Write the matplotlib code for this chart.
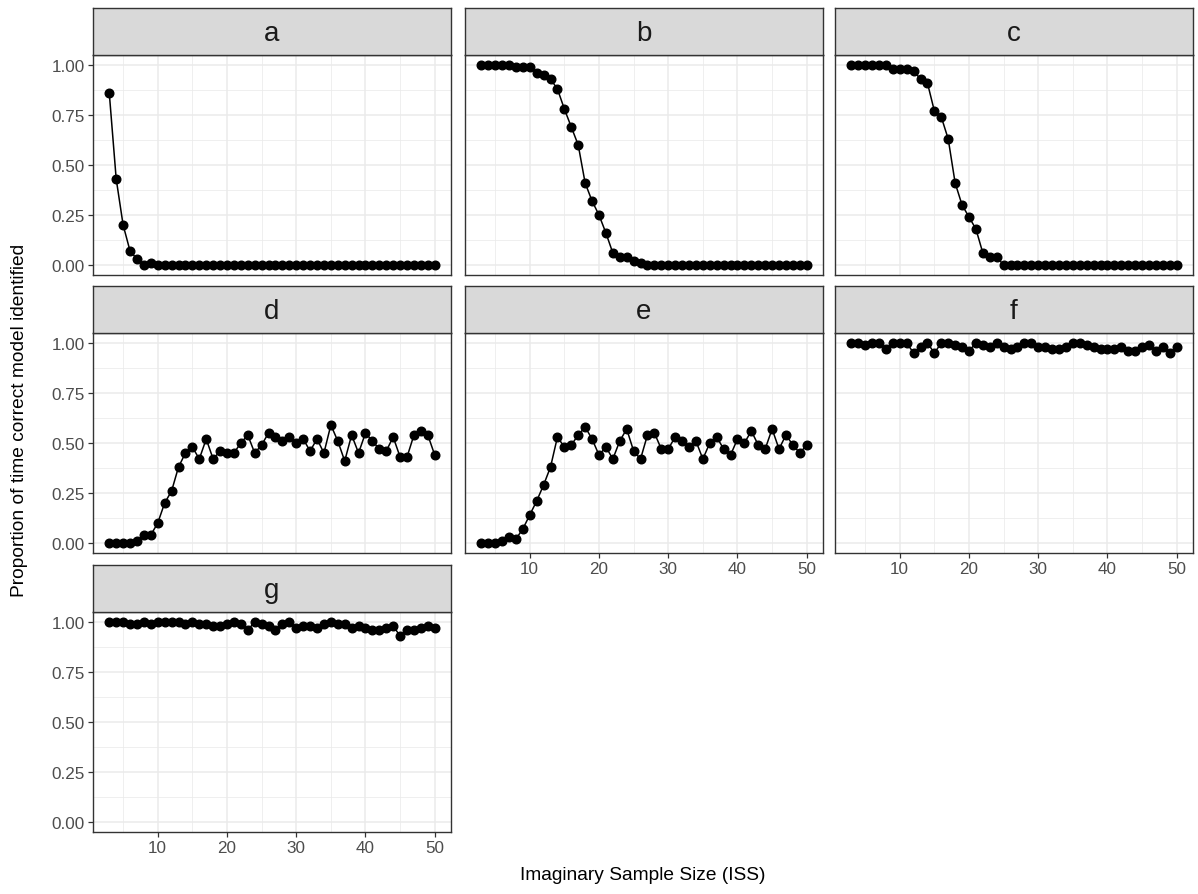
import numpy as np
import matplotlib
matplotlib.use("Agg")
import matplotlib.pyplot as plt
from matplotlib.ticker import FixedLocator, FormatStrFormatter

plt.rcParams["font.family"] = ["Liberation Sans", "DejaVu Sans"]

# imaginary sample size, shared by every panel
iss = np.arange(3, 51)

# proportion of runs where the correct model was picked, one list per case
prop_a = [0.86, 0.43, 0.20, 0.07, 0.03, 0.00, 0.01] + [0.00] * 41
prop_b = [1.00, 1.00, 1.00, 1.00, 1.00, 0.99, 0.99, 0.99, 0.96, 0.95,
          0.93, 0.88, 0.78, 0.69, 0.60, 0.41, 0.32, 0.25, 0.16, 0.06,
          0.04, 0.04, 0.02, 0.01] + [0.00] * 24
prop_c = [1.00, 1.00, 1.00, 1.00, 1.00, 1.00, 0.98, 0.98, 0.98, 0.97,
          0.93, 0.91, 0.77, 0.74, 0.63, 0.41, 0.30, 0.24, 0.18, 0.06,
          0.04, 0.04] + [0.00] * 26
prop_d = [0.00, 0.00, 0.00, 0.00, 0.01, 0.04, 0.04, 0.10, 0.20, 0.26,
          0.38, 0.45, 0.48, 0.42, 0.52, 0.42, 0.46, 0.45, 0.45, 0.50,
          0.54, 0.45, 0.49, 0.55, 0.53, 0.51, 0.53, 0.50, 0.52, 0.46,
          0.52, 0.45, 0.59, 0.51, 0.41, 0.54, 0.45, 0.55, 0.51, 0.47,
          0.46, 0.53, 0.43, 0.43, 0.54, 0.56, 0.54, 0.44]
prop_e = [0.00, 0.00, 0.00, 0.01, 0.03, 0.02, 0.07, 0.14, 0.21, 0.29,
          0.38, 0.53, 0.48, 0.49, 0.54, 0.58, 0.52, 0.44, 0.48, 0.42,
          0.51, 0.57, 0.46, 0.42, 0.54, 0.55, 0.47, 0.47, 0.53, 0.51,
          0.48, 0.51, 0.42, 0.50, 0.53, 0.47, 0.44, 0.52, 0.50, 0.56,
          0.49, 0.47, 0.57, 0.47, 0.54, 0.49, 0.45, 0.49]
prop_f = [1.00, 1.00, 0.99, 1.00, 1.00, 0.97, 1.00, 1.00, 1.00, 0.95,
          0.98, 1.00, 0.95, 1.00, 1.00, 0.99, 0.98, 0.96, 1.00, 0.99,
          0.98, 1.00, 0.98, 0.97, 0.98, 1.00, 1.00, 0.98, 0.98, 0.97,
          0.97, 0.98, 1.00, 1.00, 0.99, 0.98, 0.97, 0.97, 0.97, 0.98,
          0.96, 0.96, 0.98, 0.99, 0.96, 0.98, 0.95, 0.98]
prop_g = [1.00, 1.00, 1.00, 0.99, 0.99, 1.00, 0.99, 1.00, 1.00, 1.00,
          1.00, 0.99, 1.00, 0.99, 0.99, 0.98, 0.98, 0.99, 1.00, 0.99,
          0.96, 1.00, 0.99, 0.98, 0.96, 0.99, 1.00, 0.97, 0.98, 0.98,
          0.97, 0.99, 1.00, 0.99, 0.99, 0.97, 0.98, 0.97, 0.96, 0.96,
          0.97, 0.98, 0.93, 0.96, 0.96, 0.97, 0.98, 0.97]

panel_names = ["a", "b", "c", "d", "e", "f", "g"]
panel_values = [prop_a, prop_b, prop_c, prop_d, prop_e, prop_f, prop_g]

x_major = [10, 20, 30, 40, 50]
x_minor = [5, 15, 25, 35, 45]
y_major = [0.0, 0.25, 0.50, 0.75, 1.0]
y_minor = [0.125, 0.375, 0.625, 0.875]

W, H = 1198, 895
fig = plt.figure(figsize=(W / 100, H / 100), dpi=100)

col_left = [93, 465, 835]
row_top = [56, 334, 613]
pw, ph, strip_h = 358, 220, 47

GRID = "#EBEBEB"
DARK = "#333333"
TXT = "#4D4D4D"


def px_axes(left, top, width, height):
    return fig.add_axes([left / W, 1 - (top + height) / H, width / W, height / H])


for i, (name, vals) in enumerate(zip(panel_names, panel_values)):
    r, c = divmod(i, 3)
    x0, y0 = col_left[c], row_top[r]
    ax = px_axes(x0, y0, pw, ph)

    ax.plot(iss, vals, color="black", lw=1.1, zorder=3)
    ax.plot(iss, vals, "o", color="black", ms=6.2, zorder=4)

    ax.set_xlim(3 - 2.35, 50 + 2.35)
    ax.set_ylim(-0.05, 1.05)
    ax.xaxis.set_major_locator(FixedLocator(x_major))
    ax.xaxis.set_minor_locator(FixedLocator(x_minor))
    ax.yaxis.set_major_locator(FixedLocator(y_major))
    ax.yaxis.set_minor_locator(FixedLocator(y_minor))
    ax.yaxis.set_major_formatter(FormatStrFormatter("%.2f"))
    ax.grid(which="major", color=GRID, lw=1.1, zorder=0)
    ax.grid(which="minor", color=GRID, lw=0.55, zorder=0)
    ax.set_axisbelow(True)
    for sp in ax.spines.values():
        sp.set_color(DARK)
        sp.set_linewidth(1.0)

    ax.tick_params(which="minor", length=0)
    ax.tick_params(which="major", length=3.5, width=0.9, color=DARK,
                   labelsize=12.3, labelcolor=TXT, pad=2.5)

    # ggplot-style: y labels on the first column, x labels on the lowest
    # panel of each column
    show_x = (i >= 4)
    show_y = (c == 0)
    ax.tick_params(axis="x", labelbottom=show_x, length=3.5 if show_x else 0)
    ax.tick_params(axis="y", labelleft=show_y, length=3.5 if show_y else 0)

    # facet strip
    sax = px_axes(x0, y0 - strip_h, pw, strip_h)
    sax.set_facecolor("#D9D9D9")
    sax.set_xticks([])
    sax.set_yticks([])
    for sp in sax.spines.values():
        sp.set_color(DARK)
        sp.set_linewidth(1.0)
    sax.text(0.5, 0.47, name, ha="center", va="center", fontsize=20,
             color="#1A1A1A", transform=sax.transAxes)

fig.text(20 / W, 1 - 420 / H, "Proportion of time correct model identified",
         rotation=90, ha="center", va="center", fontsize=13.8, color="black")
fig.text(643 / W, 1 - 876 / H, "Imaginary Sample Size (ISS)",
         ha="center", va="center", fontsize=13.8, color="black")

fig.savefig("out.png", dpi=100, facecolor="white")
